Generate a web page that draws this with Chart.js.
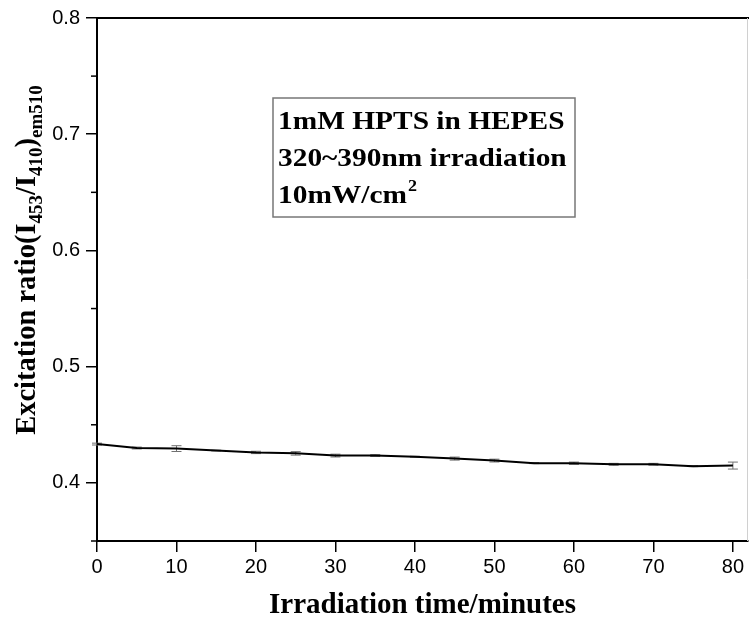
<!DOCTYPE html>
<html>
<head>
<meta charset="utf-8">
<script src="https://cdn.jsdelivr.net/npm/chart.js@4/dist/chart.umd.min.js"></script>
<style>
html,body{margin:0;padding:0;background:#fff;}
#wrap{width:749px;height:620px;}
</style>
</head>
<body>
<div id="wrap"><canvas id="c" width="749" height="620"></canvas></div>
<script>
// ---- data ----
const times = [0, 5, 10, 15, 20, 25, 30, 35, 40, 45, 50, 55, 60, 65, 70, 75, 80];
const ratio = [0.4334, 0.4300, 0.4295, 0.4278, 0.4262, 0.4254, 0.4235, 0.4235, 0.4225, 0.4209, 0.4192, 0.4170, 0.4169, 0.4160, 0.4160, 0.4144, 0.4149];
const ratioErr = [0.0008, 0.0008, 0.0025, 0.0003, 0.0010, 0.0015, 0.0012, 0.0008, 0.0004, 0.0013, 0.0012, 0.0004, 0.0010, 0.0008, 0.0008, 0.0004, 0.0030];
const xTicks = [0, 10, 20, 30, 40, 50, 60, 70, 80];
const yTicks = [0.4, 0.5, 0.6, 0.7, 0.8];
const yMinorTicks = [0.35, 0.45, 0.55, 0.65, 0.75];
const xTitle = 'Irradiation time/minutes';
const yTitleParts = [
  {t: 'Excitation ratio(I', sub: false},
  {t: '453', sub: true},
  {t: '/I', sub: false},
  {t: '410', sub: true},
  {t: ')', sub: false},
  {t: 'em510', sub: true}
];
const noteLines = ['1mM HPTS in HEPES', '320~390nm irradiation', '10mW/cm'];
const noteSup = '2';

const SERIF = '"Liberation Serif","Times New Roman",serif';
const SANS = '"Liberation Sans",Arial,sans-serif';

const extras = {
  id: 'extras',
  beforeDatasetsDraw(chart) {
    const ctx = chart.ctx, xs = chart.scales.x, ys = chart.scales.y;
    ctx.save();
    ctx.strokeStyle = '#707070';
    ctx.lineWidth = 1;
    times.forEach((t, i) => {
      const x = xs.getPixelForValue(t);
      const y1 = ys.getPixelForValue(ratio[i] - ratioErr[i]);
      const y2 = ys.getPixelForValue(ratio[i] + ratioErr[i]);
      ctx.beginPath();
      ctx.moveTo(x, y1); ctx.lineTo(x, y2);
      ctx.moveTo(x - 5, y1); ctx.lineTo(x + 5, y1);
      ctx.moveTo(x - 5, y2); ctx.lineTo(x + 5, y2);
      ctx.stroke();
    });
    ctx.restore();
  },
  afterDraw(chart) {
    const ctx = chart.ctx, ca = chart.chartArea, ys = chart.scales.y;
    ctx.save();
    // frame: top and right
    ctx.strokeStyle = '#000';
    ctx.lineWidth = 2;
    ctx.beginPath();
    ctx.moveTo(ca.left - 1, ca.top); ctx.lineTo(chart.width, ca.top);
    ctx.stroke();
    ctx.strokeStyle = '#d0d0d0';
    ctx.lineWidth = 1;
    ctx.beginPath();
    ctx.moveTo(ca.right - 0.5, ca.top); ctx.lineTo(ca.right - 0.5, ca.bottom);
    ctx.stroke();
    // minor y ticks
    ctx.strokeStyle = '#000';
    ctx.lineWidth = 1.5;
    yMinorTicks.forEach(v => {
      const y = ys.getPixelForValue(v);
      ctx.beginPath();
      ctx.moveTo(ca.left - 6, y); ctx.lineTo(ca.left, y);
      ctx.stroke();
    });
    // y title with subscripts
    ctx.fillStyle = '#000';
    ctx.textBaseline = 'alphabetic';
    ctx.textAlign = 'left';
    const mainFont = 'bold 28.5px ' + SERIF, subFont = 'bold 19px ' + SERIF;
    let total = 0;
    yTitleParts.forEach(p => { ctx.font = p.sub ? subFont : mainFont; total += ctx.measureText(p.t).width; });
    ctx.translate(35, 260);
    ctx.rotate(-Math.PI / 2);
    let x = -total / 2;
    yTitleParts.forEach(p => {
      ctx.font = p.sub ? subFont : mainFont;
      ctx.fillText(p.t, x, p.sub ? 7 : 0);
      x += ctx.measureText(p.t).width;
    });
    ctx.restore();
    // note box
    ctx.save();
    const bx = 273, by = 98, bw = 302, bh = 119;
    ctx.strokeStyle = '#777';
    ctx.lineWidth = 1.5;
    ctx.strokeRect(bx, by, bw, bh);
    ctx.fillStyle = '#000';
    ctx.textBaseline = 'alphabetic';
    ctx.textAlign = 'left';
    ctx.translate(278, 0);
    ctx.scale(1.13, 1);
    ctx.font = 'bold 26px ' + SERIF;
    const baselines = [129, 166, 203];
    noteLines.forEach((l, i) => ctx.fillText(l, 0, baselines[i]));
    const w3 = ctx.measureText(noteLines[2]).width;
    ctx.font = 'bold 16px ' + SERIF;
    ctx.fillText(noteSup, w3 + 1, 191);
    ctx.restore();
  }
};

new Chart(document.getElementById('c'), {
  type: 'line',
  data: {
    datasets: [{
      data: times.map((t, i) => ({x: t, y: ratio[i]})),
      borderColor: '#000',
      borderWidth: 2,
      pointRadius: 0,
      tension: 0,
      fill: false
    }]
  },
  options: {
    responsive: false,
    animation: false,
    layout: {padding: {left: 0, right: 1, top: 14, bottom: 0}},
    plugins: {legend: {display: false}, tooltip: {enabled: false}},
    scales: {
      x: {
        type: 'linear',
        min: 0,
        max: 81.9,
        afterBuildTicks: s => { s.ticks = xTicks.map(v => ({value: v})); },
        afterFit: s => { s.height = 79; },
        grid: {drawOnChartArea: false, tickLength: 11, color: '#000', lineWidth: 1.5},
        border: {color: '#000', width: 2},
        ticks: {font: {family: SANS, size: 20}, color: '#000', padding: 3, maxRotation: 0},
        title: {display: true, text: xTitle, color: '#000', padding: {top: 0, bottom: 0},
                font: {family: SERIF, size: 29, weight: 'bold', lineHeight: 1}}
      },
      y: {
        type: 'linear',
        min: 0.35,
        max: 0.8,
        afterBuildTicks: s => { s.ticks = yTicks.map(v => ({value: v})); },
        afterFit: s => { s.width = 97; },
        grid: {drawOnChartArea: false, tickLength: 11, color: '#000', lineWidth: 1.5},
        border: {color: '#000', width: 2},
        ticks: {font: {family: SANS, size: 20}, color: '#000', padding: 6,
                callback: v => Number(v).toFixed(1)}
      }
    }
  },
  plugins: [extras]
});
</script>
</body>
</html>
